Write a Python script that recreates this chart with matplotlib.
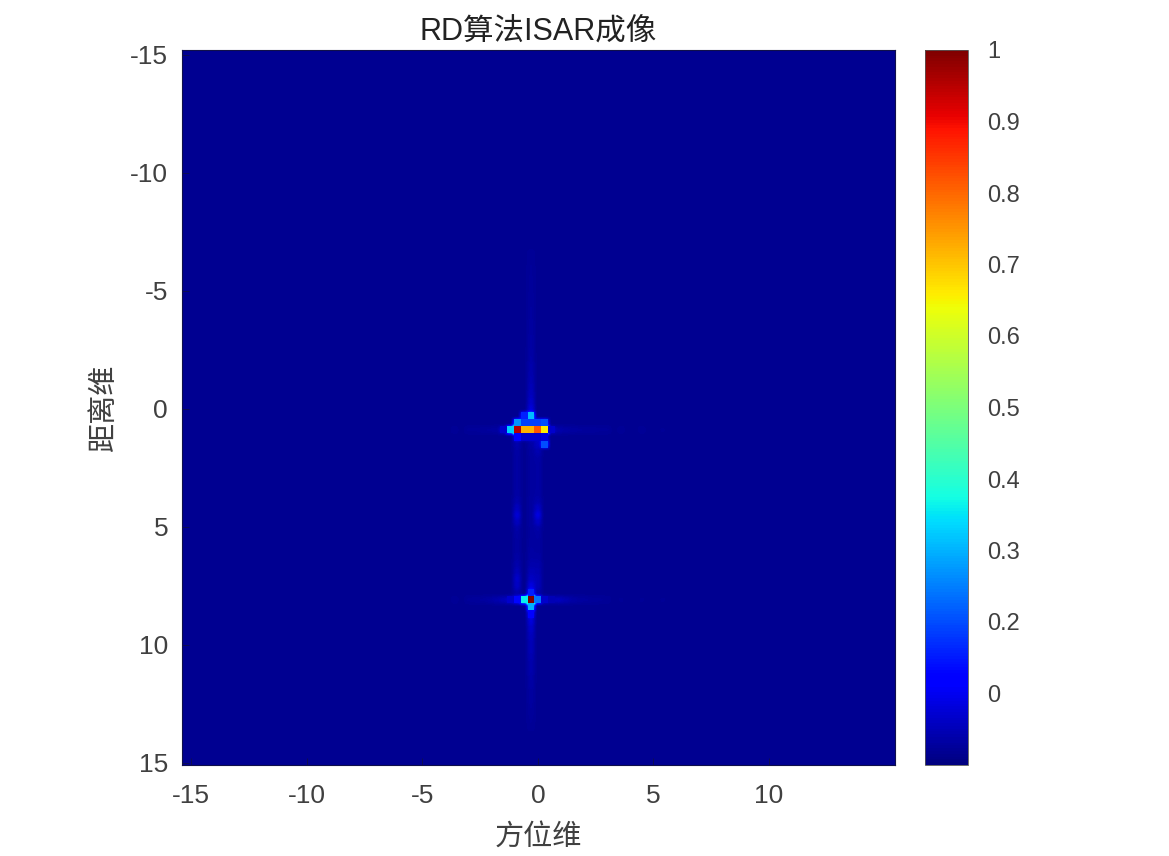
#!/usr/bin/python

import numpy as np
import matplotlib
matplotlib.use("Agg")
import matplotlib.pyplot as plt

plt.rcParams['font.family'] = ['Liberation Sans', 'Noto Sans CJK SC', 'DejaVu Sans']
plt.rcParams['axes.unicode_minus'] = False

W, H = 1169, 856

azimuth = np.round(np.arange(-52, 53) * 0.3, 1)
ranges = np.round(np.arange(-52, 53) * 0.3, 1)
background = 0.018

# bright cells: azimuth, range, value
spot_az = [-1.2, -0.9, -0.6, -0.3, 0.0, 0.3,
           -0.9, -0.6, -0.3, 0.0, 0.3,
           -0.6, -0.3,
           -0.9, -0.6, -0.3, 0.0, 0.3, 0.3, -1.5, 0.6,
           -0.3, -0.9, -0.6, 0.0, 0.3, -0.3, -0.3, -0.3, -1.2, 0.6]
spot_rg = [0.9, 0.9, 0.9, 0.9, 0.9, 0.9,
           0.6, 0.6, 0.6, 0.6, 0.6,
           0.3, 0.3,
           1.2, 1.2, 1.2, 1.2, 1.2, 1.5, 0.9, 0.9,
           8.1, 8.1, 8.1, 8.1, 8.1, 7.8, 8.4, 8.7, 8.1, 8.1]
spot_val = [0.33, 0.95, 0.72, 0.72, 0.82, 0.66,
            0.27, 0.19, 0.19, 0.19, 0.2,
            0.16, 0.31,
            0.11, 0.07, 0.07, 0.07, 0.08, 0.2, 0.07, 0.07,
            1.0, 0.13, 0.36, 0.24, 0.07, 0.16, 0.3, 0.12, 0.07, 0.05]

# faint vertical streak through azimuth -0.3, one value per range cell
streak_rg = [-6.6, -6.3, -6.0, -5.7, -5.4, -5.1, -4.8, -4.5, -4.2, -3.9, -3.6, -3.3, -3.0, -2.7, -2.4,
             -2.1, -1.8, -1.5, -1.2, -0.9, -0.6, -0.3, 0.0,
             1.5, 1.8, 2.1, 2.4, 2.7, 3.0, 3.3, 3.6, 3.9, 4.2, 4.5, 4.8, 5.1, 5.4,
             5.7, 6.0, 6.3, 6.6, 6.9, 7.2, 7.5,
             9.0, 9.3, 9.6, 9.9, 10.2, 10.5, 10.8, 11.1, 11.4, 11.7, 12.0, 12.3, 12.6, 12.9, 13.2, 13.5]
streak_val = [0.022, 0.022, 0.024, 0.024, 0.025, 0.025, 0.026, 0.026, 0.028, 0.028, 0.03, 0.03, 0.032, 0.032, 0.034,
              0.036, 0.04, 0.042, 0.045, 0.05, 0.055, 0.065, 0.08,
              0.035, 0.03, 0.028, 0.028, 0.028, 0.028, 0.028, 0.028, 0.03, 0.03, 0.03, 0.03, 0.028, 0.028,
              0.03, 0.032, 0.035, 0.04, 0.05, 0.06, 0.085,
              0.08, 0.065, 0.055, 0.05, 0.05, 0.045, 0.04, 0.04, 0.036, 0.034, 0.03, 0.03, 0.028, 0.026, 0.024, 0.022]

# faint columns either side of the streak, with blobs near 4.5 and 7.2
side_rg = [1.5, 1.8, 2.1, 2.4, 2.7, 3.0, 3.3, 3.6, 3.9, 4.2, 4.5, 4.8, 5.1, 5.4, 5.7, 6.0, 6.3, 6.6, 6.9, 7.2, 7.5, 7.8]
side_left = [0.04, 0.035, 0.032, 0.032, 0.032, 0.032, 0.032, 0.034, 0.04, 0.055, 0.075, 0.055, 0.036, 0.032, 0.03, 0.03, 0.034, 0.04, 0.05, 0.065, 0.06, 0.04]
side_right = [0.06, 0.045, 0.035, 0.032, 0.032, 0.032, 0.032, 0.034, 0.04, 0.06, 0.085, 0.06, 0.036, 0.032, 0.03, 0.03, 0.034, 0.04, 0.045, 0.05, 0.05, 0.04]

# faint horizontal streaks through the two targets
hline_az = [-3.6, -3.0, -2.7, -2.4, -2.1, -1.8, -1.5, -1.2, 0.6, 0.9, 1.2, 1.5, 1.8, 2.1, 2.4, 2.7, 3.0, 3.6, 4.5, 5.4]
hline_top = [0.022, 0.024, 0.024, 0.026, 0.028, 0.03, 0.04, 0.045, 0.045, 0.04, 0.034, 0.03, 0.028, 0.026, 0.026, 0.024, 0.024, 0.022, 0.022, 0.02]
hline_low = [0.022, 0.024, 0.026, 0.028, 0.032, 0.04, 0.05, 0.06, 0.05, 0.055, 0.045, 0.035, 0.03, 0.028, 0.025, 0.024, 0.022, 0.02, 0.02, 0.02]

xticks = [-15, -10, -5, 0, 5, 10]
yticks = [-15, -10, -5, 0, 5, 10, 15]
cbar_ticks = [0.1, 0.2, 0.3, 0.4, 0.5, 0.6, 0.7, 0.8, 0.9, 1.0]
cbar_labels = ['0', '0.2', '0.3', '0.4', '0.5', '0.6', '0.7', '0.8', '0.9', '1']

img = np.full((len(ranges), len(azimuth)), background)
spots = np.ma.masked_all(img.shape)


def cell(az, rg):
	return np.argmin(np.abs(ranges - rg)), np.argmin(np.abs(azimuth - az))


for rg, val in zip(streak_rg, streak_val):
	img[cell(-0.3, rg)] = val
for rg, l, r in zip(side_rg, side_left, side_right):
	img[cell(-0.9, rg)] = l
	img[cell(0.0, rg)] = r
for az, a, b in zip(hline_az, hline_top, hline_low):
	img[cell(az, 0.9)] = a
	img[cell(az, 8.1)] = b
for az, rg, val in zip(spot_az, spot_rg, spot_val):
	img[cell(az, rg)] = val
	spots[cell(az, rg)] = val

fig = plt.figure(figsize=(W / 100, H / 100), dpi=100)
ax = fig.add_axes([182 / W, 1 - 765 / H, 713 / W, 715 / H])
half = 0.15
box = [azimuth[0] - half, azimuth[-1] + half, ranges[-1] + half, ranges[0] - half]
# soft glow underneath, blocky bright cells on top
ax.imshow(img, cmap='jet', vmin=0, vmax=1, aspect='auto', interpolation='hanning', extent=box)
im = ax.imshow(spots, cmap='jet', vmin=0, vmax=1, aspect='auto', interpolation='nearest', extent=box)
ax.set_xlim(-15.4, 15.45)
ax.set_ylim(15.1, -15.2)
ax.set_xticks(xticks)
ax.set_yticks(yticks)
ax.tick_params(labelsize=19, colors='#404040', length=5, width=0.6, direction='in', color='#10104a')
ax.tick_params(axis='x', pad=14)
ax.tick_params(axis='y', pad=10)
for s in ax.spines.values():
	s.set_color('#10104a')
	s.set_linewidth(0.8)

ax.set_title('RD算法ISAR成像', fontsize=22, color='#222222', pad=7)
ax.set_xlabel('方位维', fontsize=21, color='#404040', labelpad=10)
ax.set_ylabel('距离维', fontsize=21, color='#404040', labelpad=9)

cax = fig.add_axes([925 / W, 1 - 765 / H, 43 / W, 715 / H])
cbar = fig.colorbar(im, cax=cax)
cbar.set_ticks(cbar_ticks)
cbar.set_ticklabels(cbar_labels)
cbar.ax.tick_params(labelsize=17, colors='#404040', length=0, pad=14)
cbar.outline.set_edgecolor('#555555')
cbar.outline.set_linewidth(0.6)

plt.savefig('out.png', dpi=100)
